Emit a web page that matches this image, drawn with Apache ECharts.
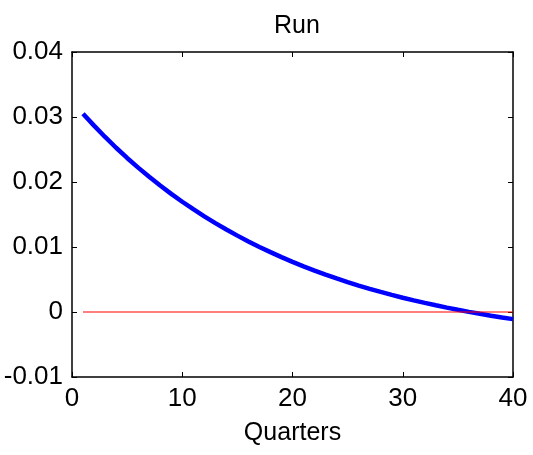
<!DOCTYPE html>
<html>
<head>
<meta charset="utf-8">
<script src="https://cdn.jsdelivr.net/npm/echarts@6/dist/echarts.min.js"></script>
<style>
html,body{margin:0;padding:0;background:#fff;}
#chart{width:533px;height:455px;}
</style>
</head>
<body>
<div id="chart"></div>
<script>
const titleText = 'Run';
const xAxisName = 'Quarters';
const quarters = [1,2,3,4,5,6,7,8,9,10,11,12,13,14,15,16,17,18,19,20,21,22,23,24,25,26,27,28,29,30,31,32,33,34,35,36,37,38,39,40];
const runValues = [
  0.0305, 0.02867, 0.02693, 0.02527, 0.0237, 0.02221, 0.0208, 0.01945, 0.01817, 0.01696,
  0.01581, 0.01471, 0.01367, 0.01269, 0.01175, 0.01086, 0.01001, 0.00921, 0.00845, 0.00772,
  0.00703, 0.00638, 0.00576, 0.00517, 0.00461, 0.00407, 0.00357, 0.00309, 0.00263, 0.0022,
  0.00179, 0.0014, 0.00103, 0.00067, 0.00034, 0.00002, -0.00028, -0.00057, -0.00084, -0.0011
];
const zeroLineValue = 0;
const xTicks = [0, 10, 20, 30, 40];
const yTickLabels = ['-0.01', '0', '0.01', '0.02', '0.03', '0.04'];
const yMin = -0.01, yMax = 0.04, yStep = 0.01;

const font = 'Liberation Sans, Arial, Helvetica, sans-serif';
const chart = echarts.init(document.getElementById('chart'));

function yLabel(v) {
  const idx = Math.round((v - yMin) / yStep);
  return yTickLabels[idx] !== undefined ? yTickLabels[idx] : '';
}

const axisLine = { show: true, onZero: false, lineStyle: { color: '#000', width: 1.5 } };
const axisTick = { show: true, inside: true, length: 5, lineStyle: { color: '#000', width: 1 } };

chart.setOption({
  animation: false,
  backgroundColor: '#fff',
  title: {
    text: titleText, left: 292, top: 9, textAlign: 'center',
    textStyle: { fontFamily: font, fontSize: 25, fontWeight: 'normal', color: '#000' }
  },
  grid: { left: 72, right: 20, top: 52, bottom: 78, containLabel: false },
  xAxis: [
    {
      type: 'value', min: xTicks[0], max: xTicks[xTicks.length - 1], interval: 10,
      position: 'bottom',
      name: xAxisName, nameLocation: 'middle', nameGap: 44,
      nameTextStyle: { fontFamily: font, fontSize: 25, color: '#000' },
      axisLine: axisLine, axisTick: axisTick,
      axisLabel: { fontFamily: font, fontSize: 26, color: '#000', margin: 9 },
      splitLine: { show: false }
    },
    {
      type: 'value', min: xTicks[0], max: xTicks[xTicks.length - 1], interval: 10,
      position: 'top',
      axisLine: axisLine, axisTick: axisTick,
      axisLabel: { show: false }, splitLine: { show: false }
    }
  ],
  yAxis: [
    {
      type: 'value', min: yMin, max: yMax, interval: yStep, position: 'left',
      axisLine: axisLine, axisTick: axisTick,
      axisLabel: { fontFamily: font, fontSize: 26, color: '#000', margin: 9, formatter: yLabel },
      splitLine: { show: false }
    },
    {
      type: 'value', min: yMin, max: yMax, interval: yStep, position: 'right',
      axisLine: axisLine, axisTick: axisTick,
      axisLabel: { show: false }, splitLine: { show: false }
    }
  ],
  series: [
    {
      type: 'line', xAxisIndex: 0, yAxisIndex: 0,
      data: quarters.map((q, i) => [q, runValues[i]]),
      showSymbol: false, symbol: 'none',
      lineStyle: { color: '#0000ff', width: 4.5 },
      z: 2
    },
    {
      type: 'line', xAxisIndex: 0, yAxisIndex: 0,
      data: quarters.map(q => [q, zeroLineValue]),
      showSymbol: false, symbol: 'none',
      lineStyle: { color: '#ff0000', width: 1.2 },
      z: 3
    }
  ]
});
</script>
</body>
</html>
